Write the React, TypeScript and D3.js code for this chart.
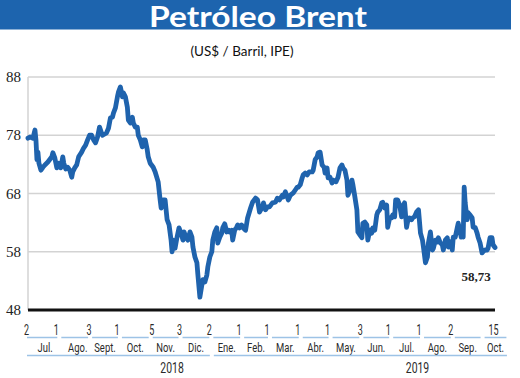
import React from "react";
import * as d3 from "d3";

const title = "Petróleo Brent";
const subtitle = "(US$ / Barril, IPE)";
const startDate = "2018-07-02";
const endDate = "2019-10-15";

// days since 2018-07-02
const dayOffsets = [
  0,2,5,7,8,9,10,11,13,15,17,20,24,25,27,29,31,33,35,36,38,40,42,44,45,47,49,51,54,56,58,60,62,64,66,68,70,72,74,75,79,81,83,85,86,88,90,91,93,95,96,98,100,101,103,105,106,108,110,111,113,115,116,118,120,121,
  123,126,128,131,133,134,136,138,140,142,144,145,146,148,150,152,154,156,157,159,161,163,165,166,168,170,171,173,175,176,178,180,181,183,185,186,188,190,191,193,195,196,198,200,202,
  203,205,206,208,210,211,213,215,216,219,221,224,226,229,231,233,236,237,239,241,243,246,249,251,253,256,257,259,261,262,264,267,269,271,272,274,276,277,279,281,283,286,287,289,291,292,294,296,298,299,301,302,304,306,307,310,312,314,316,317,319,321,322,324,326,327,329,
  331,332,334,336,337,339,341,342,344,346,347,349,351,352,354,356,357,359,361,362,364,366,367,369,370,372,374,376,377,379,381,382,384,386,387,389,391,393,395,397,398,400,402,403,405,407,408,410,412,413,415,417,418,420,422,423,425,427,428,430,432,433,435,436,437,438,439,440,442,443,445,447,448,450,452,453,455,457,458,460,462,463,465,467,468,470,
];

const prices = [
  77.5,77.7,77.5,78.9,77.2,73.8,75.1,73.2,72.0,72.5,72.9,73.4,74.3,75.0,74.1,72.4,73.2,72.4,74.3,73.2,72.2,72.5,72.0,70.8,71.7,72.4,72.9,74.3,75.1,75.8,76.3,77.2,78.0,78.0,77.2,76.7,77.7,79.4,78.4,78.0,78.4,79.2,81.0,81.1,81.8,82.7,84.6,85.4,86.3,84.6,85.3,84.6,82.8,80.6,80.1,81.1,80.1,79.4,79.4,78.0,77.2,76.0,77.2,77.2,75.5,74.3,
  73.2,72.5,71.7,70.0,66.9,65.5,66.9,66.9,63.5,62.6,60.0,58.0,60.0,58.6,60.5,62.1,61.2,60.0,61.4,60.5,60.0,61.4,60.5,58.8,57.1,56.1,54.0,50.2,52.3,53.2,52.8,54.0,55.4,57.1,58.0,60.0,61.4,62.1,59.5,60.5,61.2,62.1,62.8,61.4,61.7,
  61.4,61.7,60.0,61.7,62.2,62.6,62.1,62.6,62.2,61.7,63.8,65.5,66.5,67.2,66.9,64.8,65.7,66.4,65.2,65.7,65.7,66.4,66.5,67.2,66.9,67.7,67.4,68.3,67.4,66.9,67.7,68.1,68.6,69.1,69.1,69.5,70.7,71.2,71.5,71.2,71.7,71.7,72.0,73.8,74.3,75.0,75.1,72.9,72.5,71.5,72.4,70.7,70.8,69.8,70.3,70.0,70.8,72.4,72.9,72.4,72.0,70.3,67.7,68.6,70.3,69.5,67.4,
  65.2,61.4,60.9,60.4,62.9,63.1,62.6,60.0,61.7,61.2,62.1,61.7,64.3,64.8,65.2,66.4,66.5,65.5,66.0,62.2,63.8,63.8,64.3,64.0,66.9,66.9,66.0,64.0,65.7,66.4,62.2,63.1,63.8,63.5,63.8,64.0,64.8,65.2,61.2,60.0,58.8,56.1,57.1,59.5,61.4,58.3,58.6,60.0,59.7,60.4,59.5,59.2,58.3,60.0,60.4,58.8,59.7,58.3,60.5,60.5,62.1,62.9,61.4,60.5,61.7,60.5,69.1,66.4,63.5,64.7,64.3,63.8,62.2,62.2,61.2,60.5,59.5,57.8,58.0,58.3,58.3,58.6,60.4,60.4,59.2,58.73,
];

const lastLabel = "58,73";
const yTicks = [88, 78, 68, 58, 48];

const tickDates = [
  "2018-07-02","2018-08-01","2018-09-03","2018-10-01","2018-11-05","2018-12-03",
  "2019-01-02","2019-02-01","2019-03-01","2019-04-01","2019-05-01","2019-06-03",
  "2019-07-01","2019-08-01","2019-09-02","2019-10-15",
];
const tickLabels = ["2","1","3","1","5","3","2","1","1","1","1","3","1","1","2","15"];

const monthBounds = [
  "2018-07-01","2018-08-01","2018-09-01","2018-10-01","2018-11-01","2018-12-01",
  "2019-01-01","2019-02-01","2019-03-01","2019-04-01","2019-05-01","2019-06-01",
  "2019-07-01","2019-08-01","2019-09-01","2019-10-01","2019-10-27",
];
const monthLabels = ["Jul.","Ago.","Sept.","Oct.","Nov.","Dic.","Ene.","Feb.","Mar.","Abr.","May.","Jun.","Jul.","Ago.","Sep.","Oct."];

const yearBounds = ["2018-07-01", "2019-01-01", "2019-10-27"];
const yearLabels = ["2018", "2019"];
const yearLabelDates = ["2018-11-24", "2019-07-29"];

const parse = d3.timeParse("%Y-%m-%d");

function Narrow(props: { x: number; y: number; size: number; children: React.ReactNode; sx?: number }) {
  const sx = props.sx ?? 0.7;
  return (
    <text transform={`translate(${props.x},${props.y}) scale(${sx},1)`} textAnchor="middle"
      fontFamily="Roboto, 'Noto Sans', sans-serif" fontSize={props.size} fill="#2a2a2a">{props.children}</text>
  );
}

export default function App() {
  const W = 520, H = 378;
  const x = d3.scaleTime()
    .domain([parse(startDate)!, parse(endDate)!])
    .range([28, 495]);
  const y = d3.scaleLinear().domain([48, 88]).range([310, 77]);

  const start = parse(startDate)!;
  const data = dayOffsets.map((d, i) => ({ date: d3.timeDay.offset(start, d), price: prices[i] }));
  const line = d3.line<{ date: Date; price: number }>()
    .x((d) => x(d.date))
    .y((d) => y(d.price));

  const blue = "#1f63ad";
  const segBlue = "#9dc3e6";
  const serif = "'Liberation Serif', 'Times New Roman', serif";

  return (
    <svg width={W} height={H} style={{ position: "absolute", left: 0, top: 0, background: "#fff" }}>
      <rect x={0} y={0} width={511} height={29.5} fill="#1d64ae" />
      <text x={258} y={27} textAnchor="middle" fill="#fff" fontFamily="Lato, 'Open Sans', sans-serif"
        fontWeight={700} fontSize={28} textLength={218} lengthAdjust="spacingAndGlyphs">{title}</text>
      <text x={242} y={55.5} textAnchor="middle" fill="#111" fontFamily="Lato, 'Open Sans', sans-serif"
        fontSize={13} textLength={103} lengthAdjust="spacingAndGlyphs">{subtitle}</text>

      {/* gridlines */}
      {yTicks.slice(0, -1).map((t) => (
        <line key={t} x1={28} x2={495} y1={y(t)} y2={y(t)} stroke="#d3d3d3" strokeWidth={1.5} />
      ))}
      <line x1={28} x2={28} y1={y(88)} y2={y(48)} stroke="#d3d3d3" strokeWidth={1.5} />
      {yTicks.map((t) => (
        <text key={t} x={21} y={y(t) + 5} textAnchor="end" fontFamily={serif} fontSize={15} fill="#222">{t}</text>
      ))}

      <path d={line(data) ?? ""} fill="none" stroke={blue} strokeWidth={4.8} strokeLinejoin="round" strokeLinecap="round" />

      <line x1={28} x2={495} y1={y(48)} y2={y(48)} stroke="#111" strokeWidth={3} />

      <text x={476} y={281} textAnchor="middle" fontFamily={serif} fontWeight={700} fontSize={13} fill="#222">{lastLabel}</text>

      {/* tick numbers */}
      {tickDates.map((d, i) => (
        <Narrow key={"t" + i} x={x(parse(d)!) - 1.5} y={335} size={14.5} sx={0.62}>{tickLabels[i]}</Narrow>
      ))}
      {/* month segments */}
      {monthLabels.map((m, i) => {
        const x0 = x(parse(monthBounds[i])!) + (i === 0 ? 0 : 3.5);
        const x1 = x(parse(monthBounds[i + 1])!) - 0.5;
        return (
          <g key={"m" + i}>
            <line x1={x0} x2={x1} y1={337.5} y2={337.5} stroke={segBlue} strokeWidth={1.5} />
            <Narrow x={(x0 + x1) / 2 + (i < 2 ? 3 : 0)} y={351.5} size={13.5} sx={0.7}>{m}</Narrow>
          </g>
        );
      })}
      {/* year segments */}
      {yearLabels.map((yl, i) => {
        const x0 = x(parse(yearBounds[i])!) + (i === 0 ? 0 : 4);
        const x1 = x(parse(yearBounds[i + 1])!);
        return (
          <g key={"y" + i}>
            <line x1={x0} x2={x1} y1={355.5} y2={355.5} stroke={segBlue} strokeWidth={1.5} />
            <Narrow x={x(parse(yearLabelDates[i])!)} y={372.5} size={14.5} sx={0.72}>{yl}</Narrow>
          </g>
        );
      })}
    </svg>
  );
}
